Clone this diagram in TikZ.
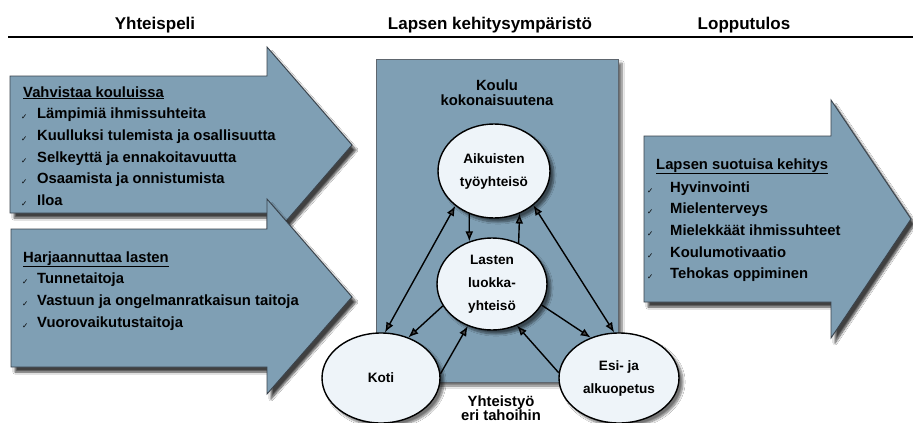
\documentclass[tikz,border=0pt]{standalone}
\usepackage{fontspec}
\setmainfont{Liberation Sans}
\newfontfamily\dejavu{DejaVu Sans}
\usetikzlibrary{arrows.meta,shadows.blur,shapes.geometric}
\definecolor{steel}{HTML}{7F9FB4}
\definecolor{pale}{HTML}{EEF4F9}
\definecolor{edgegray}{HTML}{3A434C}
\definecolor{rectedge}{HTML}{5E666E}
\newcommand\chk{{\dejavu\fontsize{7.5}{8}\selectfont ✓}}
\tikzset{
  bigarrow/.style={fill=steel, draw=edgegray, line width=0.9pt,
    blur shadow={shadow xshift=4pt, shadow yshift=-5pt, shadow blur steps=8, shadow opacity=75}},
  envbox/.style={fill=steel, draw=rectedge, line width=1pt,
    blur shadow={shadow xshift=4pt, shadow yshift=-4pt, shadow blur steps=8, shadow opacity=55}},
  circ/.style={ellipse, fill=pale, draw=black, line width=1.4pt, inner sep=0pt, align=center,
    font=\bfseries\fontsize{13.6}{23}\selectfont,
    blur shadow={shadow xshift=4pt, shadow yshift=-4pt, shadow blur steps=8, shadow opacity=55}},
  hdr/.style={anchor=base, inner sep=0pt, font=\bfseries\fontsize{17}{19}\selectfont},
  item/.style={anchor=base west, inner sep=0pt, font=\bfseries\fontsize{14.8}{17}\selectfont},
  head/.style={item},
  chkmark/.style={anchor=base west, inner sep=0pt},
  lbl/.style={anchor=base, inner sep=0pt, font=\bfseries\fontsize{14.8}{17}\selectfont},
  conn/.style={line width=1.4pt, -{Latex[length=10pt,width=8pt]}},
  conn2/.style={line width=1.4pt, {Latex[length=10pt,width=8pt]}-{Latex[length=10pt,width=8pt]}}
}
\begin{document}
\begin{tikzpicture}[x=1pt,y=-1pt]
\useasboundingbox (0,0) rectangle (913,423);
\fill[white] (0,0) rectangle (913,423);

% header
\node[hdr] (hy) at (155,29) {Yhteispeli};
\node[hdr] (hl) at (490,29) {Lapsen kehitysympäristö};
\node[hdr] (hp) at (744,29) {Lopputulos};
\draw[line width=2.2pt] (8,37) -- (913,37);

% left arrows
\draw[bigarrow] (10,76) -- (267,76) -- (267,47) -- (352,145) -- (267,243) -- (267,213) -- (10,213) -- cycle;
\draw[bigarrow] (11,229) -- (267,229) -- (267,199) -- (352,297) -- (267,394) -- (267,367) -- (11,367) -- cycle;
% right arrow
\draw[bigarrow] (644,136) -- (831,136) -- (831,100) -- (911,219) -- (831,338) -- (831,302) -- (644,302) -- cycle;

% environment box
\draw[envbox] (376,59) rectangle (618,382);

% texts of arrow 1
\node[head] (h1) at (23,97) {\underline{Vahvistaa kouluissa}};
\foreach \y/\t [count=\i] in {118/Lämpimiä ihmissuhteita, 140/Kuulluksi tulemista ja osallisuutta, 162/Selkeyttä ja ennakoitavuutta, 183/Osaamista ja onnistumista, 205/Iloa}{
  \node[chkmark] (ca\i) at (21,\y+1) {\chk};
  \node[item] (ta\i) at (37,\y) {\t};
}
% texts of arrow 2
\node[head] (h2) at (23,262) {\underline{Harjaannuttaa lasten}};
\foreach \y/\t [count=\i] in {283/Tunnetaitoja, 305/Vastuun ja ongelmanratkaisun taitoja, 327/Vuorovaikutustaitoja}{
  \node[chkmark] (cb\i) at (22,\y+1) {\chk};
  \node[item] (tb\i) at (37,\y) {\t};
}
% texts of arrow 3
\node[head] (h3) at (656,169) {\underline{Lapsen suotuisa kehitys}};
\foreach \y/\t [count=\i] in {192/Hyvinvointi, 213/Mielenterveys, 235/Mielekkäät ihmissuhteet, 257/Koulumotivaatio, 278/Tehokas oppiminen}{
  \node[chkmark] (cc\i) at (647,\y+1) {\chk};
  \node[item] (tc\i) at (670,\y) {\t};
}

% box labels
\node[lbl] (k1) at (497,90) {Koulu};
\node[lbl] (k2) at (497,105) {kokonaisuutena};
\node[lbl] (y1) at (501,406) {Yhteistyö};
\node[lbl] (y2) at (501,420) {eri tahoihin};

% circles
\node[circ, minimum width=112pt, minimum height=94pt] (ait) at (494,171) {Aikuisten\\työyhteisö};
\node[circ, minimum width=110pt, minimum height=92pt] (las) at (492,284) {Lasten\\luokka-\\yhteisö};
\node[circ, minimum width=118pt, minimum height=90pt] (koti) at (381,378) {Koti};
\node[circ, minimum width=120pt, minimum height=90pt] (esi) at (619,378) {Esi- ja\\alkuopetus};

% connectors
\draw[conn2] (koti.85) -- (ait.222);
\draw[conn] (ait.240.5) -- (las.118.7);
\draw[conn] (las.57.3) -- (ait.301);
\draw[conn2] (ait.319.3) -- (esi.96.3);
\draw[conn] (las.204.7) -- (koti.56.6);
\draw[conn] (koti.4) -- (las.240.4);
\draw[conn] (las.337) -- (esi.125.8);
\draw[conn] (esi.175) -- (las.301.5);
\end{tikzpicture}
\end{document}
